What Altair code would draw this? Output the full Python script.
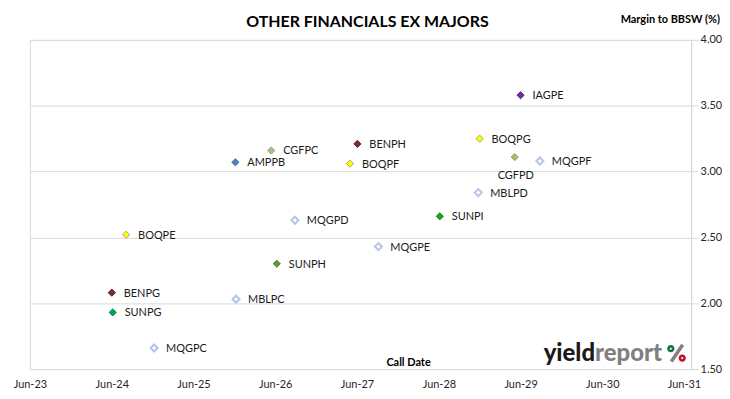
import altair as alt
import pandas as pd

# ---- data ----
names = ["IAGPE", "BOQPG", "CGFPD", "MQGPF", "MBLPD", "SUNPI", "MQGPE", "MQGPD", "BOQPE",
         "SUNPH", "CGFPC", "AMPPB", "BENPH", "BOQPF", "BENPG", "SUNPG", "MBLPC", "MQGPC"]
call_dates = ["2029-06-01", "2028-11-30", "2029-05-06", "2029-08-26", "2028-11-24", "2028-06-05",
              "2027-09-05", "2026-08-28", "2024-08-04", "2026-06-08", "2026-05-14", "2025-12-05",
              "2027-06-03", "2027-05-01", "2024-06-01", "2024-06-05", "2025-12-08", "2024-12-07"]
margins = [3.58, 3.25, 3.11, 3.08, 2.84, 2.66, 2.43, 2.63, 2.52,
           2.30, 3.16, 3.07, 3.21, 3.06, 2.08, 1.93, 2.03, 1.66]
y_ticks = [1.50, 1.75, 2.00, 2.25, 2.50, 2.75, 3.00, 3.25, 3.50, 3.75, 4.00]
x_tick_years = list(range(2023, 2032))

# ---- styles ----
fill_map = {
    "IAGPE": "#7030a0", "BOQPG": "#ffff00", "BOQPF": "#ffff00", "BOQPE": "#ffff00",
    "CGFPD": "#b0b876", "CGFPC": "#a8c08e", "SUNPI": "#1ea31e", "SUNPG": "#00a651",
    "SUNPH": "#5c9c3c", "AMPPB": "#4f81bd", "BENPH": "#7b2c2c", "BENPG": "#7b2c2c",
}
stroke_map = {
    "IAGPE": "#5a2585", "BOQPG": "#a6a66a", "BOQPF": "#a6a66a", "BOQPE": "#a6a66a",
    "CGFPD": "#8f9a70", "CGFPC": "#8ea47a", "SUNPI": "#168a16", "SUNPG": "#008a44",
    "SUNPH": "#4a8430", "AMPPB": "#3f6fa8", "BENPH": "#5e2020", "BENPG": "#5e2020",
}
hollow_color = "#b4c5e6"
FONT = "Lato"
GRID = "#d9d9d9"

df = pd.DataFrame({"name": names,
                   "date": [d + "T00:00:00" for d in call_dates],
                   "margin": margins})
df["hollow"] = df["name"].str.startswith("MQG") | df["name"].str.startswith("MBL")

filled_names = [n for n in names if n in fill_map]

x_enc = alt.X("date:T",
              scale=alt.Scale(domain=[alt.DateTime(year=2023, month=6, date=1),
                                      alt.DateTime(year=2031, month=7, date=3)]),
              axis=alt.Axis(values=[alt.DateTime(year=y, month=6, date=1) for y in x_tick_years],
                            format="%b-%y", title=None, grid=False, ticks=False, domain=False,
                            labelFont=FONT, labelFontSize=11, labelColor="#262626",
                            labelPadding=10, labelFlush=False, labelOverlap=False))
y_enc = alt.Y("margin:Q",
              scale=alt.Scale(domain=[1.5, 4.0], nice=False, zero=False),
              axis=alt.Axis(orient="right", values=y_ticks, format=".2f", title=None,
                            grid=True, gridColor=GRID, gridWidth=1,
                            domainColor=GRID, tickColor=GRID, tickSize=7,
                            labelPadding=2, labelFont=FONT, labelFontSize=11,
                            labelColor="#262626"))

base = alt.Chart(df)

filled_pts = base.transform_filter("!datum.hollow").mark_point(
    shape="diamond", filled=True, size=52, strokeWidth=1, opacity=1
).encode(
    x=x_enc, y=y_enc,
    fill=alt.Fill("name:N", scale=alt.Scale(domain=filled_names,
                                            range=[fill_map[n] for n in filled_names]), legend=None),
    stroke=alt.Stroke("name:N", scale=alt.Scale(domain=filled_names,
                                                range=[stroke_map[n] for n in filled_names]), legend=None),
)

hollow_pts = base.transform_filter("datum.hollow").mark_point(
    shape="diamond", filled=True, size=50, strokeWidth=2, fill="white",
    stroke=hollow_color, opacity=1
).encode(x="date:T", y="margin:Q")

labels = base.transform_filter("datum.name != 'CGFPD'").mark_text(
    align="left", baseline="middle", dx=12, dy=1, font=FONT, fontSize=11, color="#1a1a1a"
).encode(x="date:T", y="margin:Q", text="name:N")

label_below = base.transform_filter("datum.name == 'CGFPD'").mark_text(
    align="center", baseline="middle", dx=1, dy=19, font=FONT, fontSize=11, color="#1a1a1a"
).encode(x="date:T", y="margin:Q", text="name:N")

title_df = pd.DataFrame({"t": ["OTHER FINANCIALS EX MAJORS"]})
title = alt.Chart(title_df).mark_text(
    align="center", baseline="alphabetic", font=FONT, fontSize=16, fontWeight="bold", color="#000000"
).encode(x=alt.value(339.5), y=alt.value(-13), text="t:N")

ylab_df = pd.DataFrame({"t": ["Margin to BBSW (%)"]})
ylab = alt.Chart(ylab_df).mark_text(
    align="right", baseline="alphabetic", font=FONT, fontSize=11, fontWeight="bold", color="#000000"
).encode(x=alt.value(694), y=alt.value(-16.7), text="t:N")

xlab_df = pd.DataFrame({"t": ["Call Date"]})
xlab = alt.Chart(xlab_df).mark_text(
    align="center", baseline="alphabetic", font=FONT, fontSize=11, fontWeight="bold", color="#000000"
).encode(x=alt.value(380.8), y=alt.value(327.7), text="t:N")

# logo (decoration)
logo1 = alt.Chart(pd.DataFrame({"t": ["yield"]})).mark_text(
    align="right", baseline="alphabetic", font=FONT, fontSize=24, fontWeight=900, color="#1a1a1a"
).encode(x=alt.value(568.3), y=alt.value(322.7), text="t:N")
logo2 = alt.Chart(pd.DataFrame({"t": ["report"]})).mark_text(
    align="left", baseline="alphabetic", font=FONT, fontSize=24, fontWeight=900, color="#808080"
).encode(x=alt.value(568.3), y=alt.value(322.7), text="t:N")
one = pd.DataFrame({"t": [1]})
slash = alt.Chart(one).mark_rule(color="#808080", strokeWidth=3.5).encode(
    x=alt.value(656.5), y=alt.value(306.5), x2=alt.value(645), y2=alt.value(323.5))
dot_g = alt.Chart(one).mark_point(
    shape="circle", filled=False, size=22, strokeWidth=2.6, color="#0e7a3a", opacity=1, fill="white"
).encode(x=alt.value(644.5), y=alt.value(310.5))
dot_r = alt.Chart(one).mark_point(
    shape="circle", filled=False, size=22, strokeWidth=2.6, color="#c8102e", opacity=1, fill="white"
).encode(x=alt.value(656), y=alt.value(320))

chart = alt.layer(
    filled_pts, hollow_pts, labels, label_below, title, ylab, xlab,
    logo1, logo2, slash, dot_g, dot_r
).properties(
    width=665, height=331,
    autosize=alt.AutoSizeParams(type="none"),
    padding={"left": 22, "top": 31, "right": 31, "bottom": 21},
    background="white",
).configure_view(stroke=GRID, strokeWidth=1)

chart.save("out.html", embed_options={"renderer": "svg", "actions": False})
